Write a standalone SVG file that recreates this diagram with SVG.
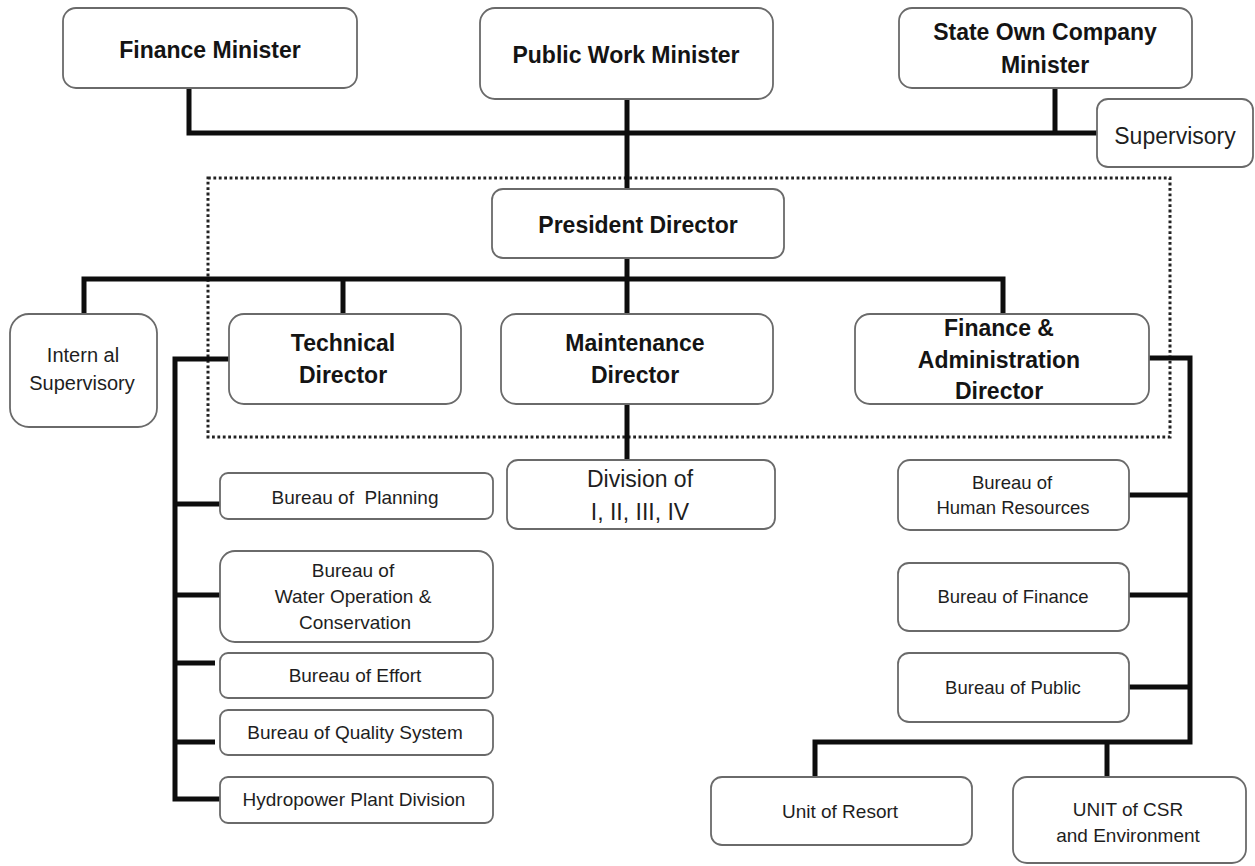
<svg xmlns="http://www.w3.org/2000/svg" width="1255" height="866" viewBox="0 0 1255 866">
<style>
.box{fill:#fff;stroke:#6a6a6a;stroke-width:1.8}
.t{font-family:"Liberation Sans",Arial,sans-serif;text-anchor:middle;dominant-baseline:central;fill:#1e1e1e}
.b{font-weight:bold;font-size:23px;fill:#141414}
.r23{font-size:23px}
.r20{font-size:20px}
.r19{font-size:19px}
.r185{font-size:18.5px}
.ln{fill:none;stroke:#0d0d0d;stroke-width:5;stroke-linejoin:miter;stroke-linecap:butt}
.dot{fill:none;stroke:#222;stroke-width:3;stroke-dasharray:2.8 2.6}
</style>
<rect width="1255" height="866" fill="#fff"/>
<rect class="dot" x="208" y="178" width="962" height="259"/>
<g id="connectors">
<path class="ln" d="M189,88 V133 H1097"/>
<path class="ln" d="M627,99 V189"/>
<path class="ln" d="M1055,88 V133"/>
<path class="ln" d="M84,314 V279 H1003 V314"/>
<path class="ln" d="M627,258 V314"/>
<path class="ln" d="M343,279 V314"/>
<path class="ln" d="M627,404 V460"/>
<path class="ln" d="M229,359 H175 V799 H220"/>
<path class="ln" d="M175,504 H220"/>
<path class="ln" d="M175,595 H220"/>
<path class="ln" d="M175,663 H215"/>
<path class="ln" d="M175,742 H215"/>
<path class="ln" d="M1149,358 H1190 V742 H815 V777"/>
<path class="ln" d="M1129,495 H1190"/>
<path class="ln" d="M1129,595 H1190"/>
<path class="ln" d="M1129,687 H1190"/>
<path class="ln" d="M1107,742 V777"/>
</g>
<g id="finance-minister"><rect class="box" x="63" y="8" width="294" height="80" rx="13"/><text class="t b" x="210" y="50">Finance Minister</text></g>
<g id="public-work-minister"><rect class="box" x="480" y="8" width="293" height="91" rx="15"/><text class="t b" x="626" y="55">Public Work Minister</text></g>
<g id="state-own-company-minister"><rect class="box" x="899" y="8" width="293" height="80" rx="13"/><text class="t b" x="1045" y="32">State Own Company</text><text class="t b" x="1045" y="65">Minister</text></g>
<g id="supervisory"><rect class="box" x="1097" y="99" width="156" height="68" rx="11"/><text class="t r23" x="1175" y="136">Supervisory</text></g>
<g id="president-director"><rect class="box" x="492" y="189" width="292" height="69" rx="11"/><text class="t b" x="638" y="225">President Director</text></g>
<g id="internal-supervisory"><rect class="box" x="10" y="314" width="147" height="113" rx="19"/><text class="t r20" x="83" y="355" xml:space="preserve">Intern al</text><text class="t r20" x="82" y="383">Supervisory</text></g>
<g id="technical-director"><rect class="box" x="229" y="314" width="232" height="90" rx="15"/><text class="t b" x="343" y="343">Technical</text><text class="t b" x="343" y="375">Director</text></g>
<g id="maintenance-director"><rect class="box" x="501" y="314" width="272" height="90" rx="15"/><text class="t b" x="635" y="343">Maintenance</text><text class="t b" x="635" y="375">Director</text></g>
<g id="finance-admin-director"><rect class="box" x="855" y="314" width="294" height="90" rx="15"/><text class="t b" x="999" y="328">Finance &amp;</text><text class="t b" x="999" y="360">Administration</text><text class="t b" x="999" y="391">Director</text></g>
<g id="division"><rect class="box" x="507" y="460" width="268" height="69" rx="11"/><text class="t r23" x="640" y="479">Division of</text><text class="t r23" x="640" y="512">I, II, III, IV</text></g>
<g id="bureau-planning"><rect class="box" x="220" y="473" width="273" height="46" rx="8"/><text class="t r19" x="355" y="497" xml:space="preserve">Bureau of  Planning</text></g>
<g id="bureau-water"><rect class="box" x="220" y="551" width="273" height="91" rx="15"/><text class="t r19" x="353" y="570">Bureau of</text><text class="t r19" x="353" y="596">Water Operation &amp;</text><text class="t r19" x="355" y="622">Conservation</text></g>
<g id="bureau-effort"><rect class="box" x="220" y="653" width="273" height="45" rx="8"/><text class="t r19" x="355" y="675">Bureau of Effort</text></g>
<g id="bureau-quality"><rect class="box" x="220" y="710" width="273" height="45" rx="8"/><text class="t r19" x="355" y="732">Bureau of Quality System</text></g>
<g id="hydropower"><rect class="box" x="220" y="777" width="273" height="46" rx="8"/><text class="t r19" x="354" y="799">Hydropower Plant Division</text></g>
<g id="bureau-hr"><rect class="box" x="898" y="460" width="231" height="70" rx="12"/><text class="t r185" x="1012" y="482">Bureau of</text><text class="t r185" x="1013" y="507">Human Resources</text></g>
<g id="bureau-finance"><rect class="box" x="898" y="563" width="231" height="68" rx="11"/><text class="t r185" x="1013" y="596">Bureau of Finance</text></g>
<g id="bureau-public"><rect class="box" x="898" y="653" width="231" height="69" rx="11"/><text class="t r185" x="1013" y="687">Bureau of Public</text></g>
<g id="unit-resort"><rect class="box" x="711" y="777" width="261" height="68" rx="11"/><text class="t r19" x="840" y="811">Unit of Resort</text></g>
<g id="unit-csr"><rect class="box" x="1013" y="777" width="233" height="86" rx="14"/><text class="t r19" x="1128" y="809">UNIT of CSR</text><text class="t r19" x="1128" y="835">and Environment</text></g>
</svg>
